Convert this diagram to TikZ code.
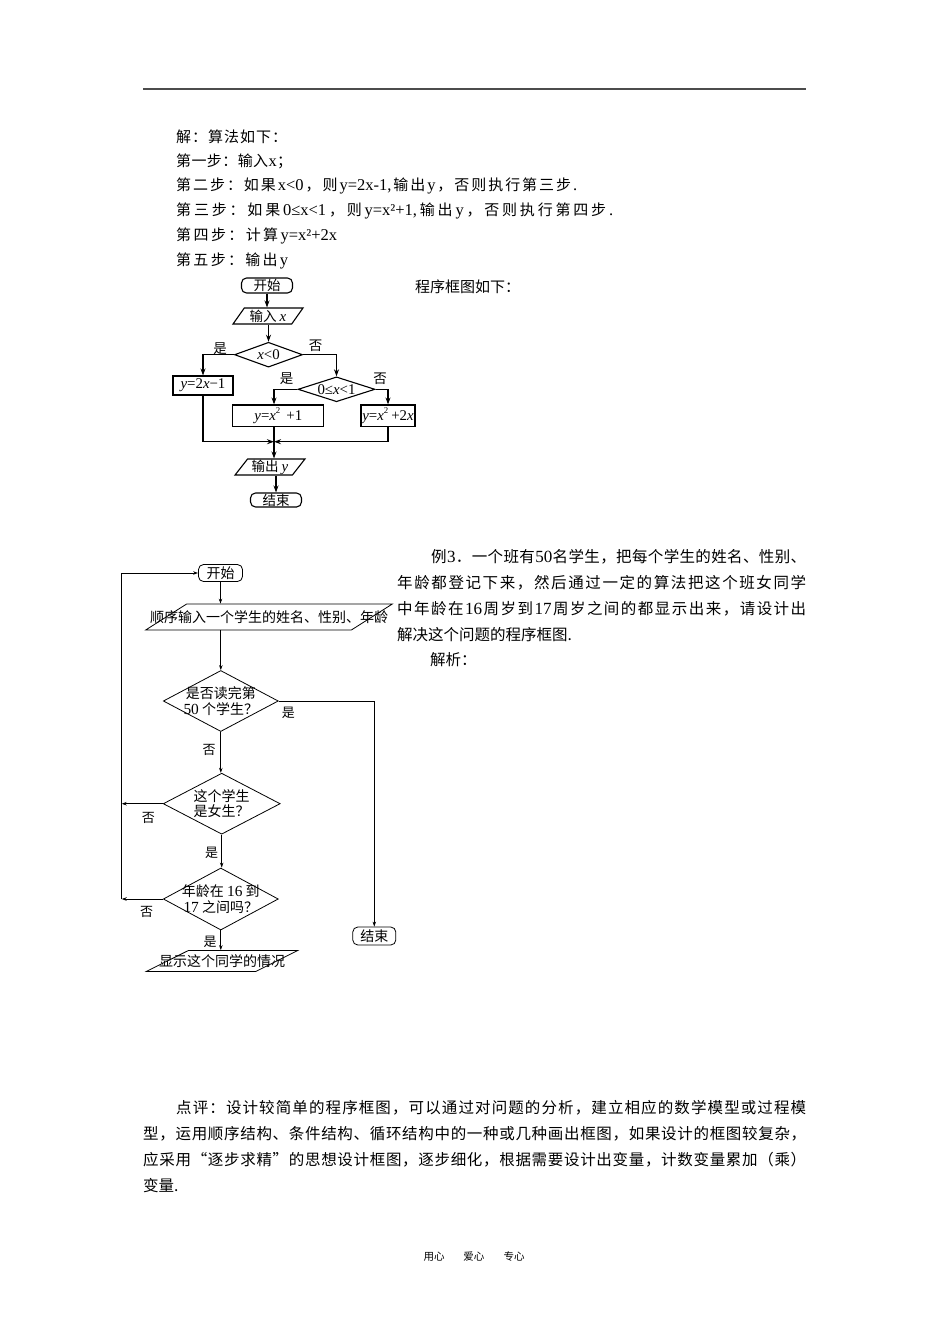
\documentclass[tikz,border=0pt]{standalone}
\usepackage{fontspec}
\setmainfont{Noto Sans CJK SC}
\newfontfamily\latf[Scale=1.1]{Liberation Serif}
\usetikzlibrary{shapes.geometric,arrows.meta}
\newcommand\latr[1]{{\latf #1}}
\newcommand\ltit[1]{{\latf\itshape #1}}
\makeatletter
\def\sp@end{SPEND}
\def\spreadit#1{\sp@first#1\sp@end}
\def\sp@first#1{#1\sp@next}
\def\sp@next#1{\ifx\sp@end#1\else\hfil#1\expandafter\sp@next\fi}
\makeatother
\newcommand\jline[2]{\hbox to #1pt{\spreadit{#2}}}
\begin{document}
\begin{tikzpicture}[x=1pt,y=-1pt,
  txt/.style={anchor=west, inner sep=0pt, font=\fontsize{15}{18}\selectfont},
  txtb/.style={anchor=west, inner sep=0pt, font=\fontsize{15.5}{18}\selectfont},
  fcA/.style={draw, line width=1.1pt, font=\fontsize{13.5}{15}\selectfont, inner sep=0pt},
  fcB/.style={draw, line width=0.8pt, font=\fontsize{14}{15.5}\selectfont, inner sep=0pt},
  term/.style={rectangle, rounded corners=5pt},
  proc/.style={rectangle},
  iobox/.style={trapezium, trapezium stretches=true},
  dec/.style={diamond},
  arA/.style={-{Stealth[length=7pt,width=5pt]}, line width=1.1pt},
  arB/.style={-{Stealth[length=5pt,width=3.5pt]}, line width=0.8pt},
  lblA/.style={inner sep=0pt, font=\fontsize{13.5}{15}\selectfont},
  lblB/.style={inner sep=0pt, font=\fontsize{13}{15}\selectfont},
]
\fill[white] (0,0) rectangle (950,1344);
\useasboundingbox (0,0) rectangle (950,1344);

% header rule
\draw[line width=2pt, black!70] (143,89) -- (806,89);

% solution text
\node[txt] (t1) at (176,137) {\jline{111}{解：算法如下：}};
\node[txt] (t2) at (176,161) {\jline{116}{第一步：输入{\latr{x}}；}};
\node[txt] (t3) at (176,186) {\jline{401}{第二步：如果{\latr{x<0}}，则{\latr{y=2x-1,}}输出{\latr{y}}，否则执行第三步{\latr{.}}}};
\node[txt] (t4) at (176,211) {\jline{437}{第三步：如果{\latr{0≤x<1}}，则{\latr{y=x²+1,}}输出{\latr{y}}，否则执行第四步{\latr{.}}}};
\node[txt] (t5) at (176,236) {\jline{161}{第四步：计算{\latr{y=x²+2x}}}};
\node[txt] (t6) at (176,261) {\jline{112}{第五步：输出{\latr{y}}}};
\node[txt] (t7) at (415,287) {程序框图如下：};

% ---------- flowchart 1 ----------
\node[fcA, term, minimum width=51, minimum height=15] (s1) at (267,285.5) {开始};
\node[fcA, iobox, trapezium left angle=55, trapezium right angle=125,
      minimum width=70, minimum height=16] (in1) at (268,316) {输入 \ltit{x}};
\node[fcA, dec, inner sep=1pt, minimum width=68, minimum height=24,
      label={[lblA]center:\ltit{x}\latr{<0}}] (d1) at (268.5,354.7) {\phantom{M}};
\node[fcA, proc, minimum width=60, minimum height=19] (b1) at (203,385.5) {\ltit{y}\latr{=2}\ltit{x}\latr{−1}};
\node[fcA, dec, inner sep=1pt, minimum width=77, minimum height=23,
      label={[lblA]center:\latr{0≤}\ltit{x}\latr{<1}}] (d2) at (336.5,389.3) {\phantom{M}};
\node[fcA, proc, minimum width=91, minimum height=21.7] (b2) at (278.3,415.8)
  {\ltit{y}\latr{=}\ltit{x}\raisebox{7pt}{\latr{\fontsize{8}{8}\selectfont 2}}\hspace{6pt}\latr{+1}};
\node[fcA, proc, minimum width=54, minimum height=21.7] (b3) at (388,415.8)
  {\ltit{y}\latr{=}\ltit{x}\raisebox{7pt}{\latr{\fontsize{8}{8}\selectfont 2}}\hspace{3pt}\latr{+2}\ltit{x}};
\node[fcA, iobox, trapezium left angle=55, trapezium right angle=125,
      minimum width=70, minimum height=16] (out1) at (270,467) {输出 \ltit{y}};
\node[fcA, term, minimum width=51, minimum height=14] (e1) at (276,500) {结束};
\coordinate (m) at (274,441.7);

\draw[arA] (s1.south) -- (s1.south |- in1.north);
\draw[arA] (d1.north |- in1.south) -- (d1.north);
\draw[arA] (d1.west) -| (b1.north);
\draw[arA] (d1.east) -| (d2.north);
\draw[arA] (d2.west) -| (m |- b2.north);
\draw[arA] (d2.east) -| (b3.north);
\draw[arA] (b1.south) |- (m);
\draw[arA] (b3.south) |- (m);
\draw[arA] (m |- b2.south) -- (m |- out1.north);
\draw[arA] (e1.north |- out1.south) -- (e1.north);

\node[lblA] (ly1) at (220,349) {是};
\node[lblA] (ln1) at (315.7,346) {否};
\node[lblA] (ly2) at (286.7,378.3) {是};
\node[lblA] (ln2) at (380,378.3) {否};

% ---------- flowchart 2 ----------
\node[fcB, term, minimum width=44, minimum height=17] (s2) at (220.5,573) {开始};
\node[fcB, iobox, inner sep=2pt, trapezium left angle=75, trapezium right angle=105,
      minimum width=247, minimum height=26,
      label={[font=\fontsize{14}{15.5}\selectfont, inner sep=0pt]center:顺序输入一个学生的姓名、性别、年龄}] (in2) at (269,617) {\phantom{M}};
\node[fcB, dec, inner sep=1pt, minimum width=115, minimum height=61,
      label={[font=\fontsize{14}{15.5}\selectfont, align=center, inner sep=0pt]center:是否读完第\\\latr{50} 个学生？}] (d3) at (220.8,701) {\phantom{M}};
\node[fcB, dec, inner sep=1pt, minimum width=117, minimum height=61,
      label={[font=\fontsize{14}{15.5}\selectfont, align=center, inner sep=0pt]center:这个学生\\是女生？}] (d4) at (221.7,803.7) {\phantom{M}};
\node[fcB, dec, inner sep=1pt, minimum width=115, minimum height=62,
      label={[font=\fontsize{14}{15.5}\selectfont, align=center, inner sep=0pt]center:年龄在 \latr{16} 到\\\latr{17} 之间吗？}] (d5) at (220.8,899) {\phantom{M}};
\node[fcB, iobox, inner sep=2pt, trapezium left angle=56, trapezium right angle=124,
      minimum width=152, minimum height=21,
      label={[font=\fontsize{14}{15.5}\selectfont, inner sep=0pt]center:显示这个同学的情况}] (out2) at (222,961) {\phantom{M}};
\node[fcB, term, minimum width=43, minimum height=18] (e2) at (374.3,936) {结束};
\coordinate (L) at (121.7,0);

\draw[arB] (s2.south) -- (s2.south |- in2.north);
\draw[arB] (d3.north |- in2.south) -- (d3.north);
\draw[arB] (d3.south) -- (d3.south |- d4.north);
\draw[arB] (d4.south) -- (d4.south |- d5.north);
\draw[arB] (d5.south) -- (d5.south |- out2.north);
\draw[arB] (d3.east) -| (e2.north);
\draw[arB] (d4.west) -- (d4.west -| L);
\draw[arB] (d5.west) -- (d5.west -| L);
\draw[arB] (d5.west -| L) |- (s2.west);

\node[lblB] (ln3) at (209,750) {否};
\node[lblB] (ly3) at (288.3,713.3) {是};
\node[lblB] (ln4) at (148.3,818.3) {否};
\node[lblB] (ly4) at (211.7,853.3) {是};
\node[lblB] (ln5) at (146.7,911.7) {否};
\node[lblB] (ly5) at (210,941.7) {是};

% example 3 text
\node[txtb] (e31) at (431,557) {\jline{375}{例{\latr{3}}．一个班有{\latr{50}}名学生，把每个学生的姓名、性别、}};
\node[txtb] (e32) at (397,583) {\jline{409}{年龄都登记下来，然后通过一定的算法把这个班女同学}};
\node[txtb] (e33) at (397,609) {\jline{409}{中年龄在{\latr{16}}周岁到{\latr{17}}周岁之间的都显示出来，请设计出}};
\node[txtb] (e34) at (397,635) {解决这个问题的程序框图.};
\node[txtb] (e35) at (430,660) {解析：};

% comment text
\node[txtb] (c1) at (176,1108) {\jline{630}{点评：设计较简单的程序框图，可以通过对问题的分析，建立相应的数学模型或过程模}};
\node[txtb] (c2) at (143,1134) {\jline{663}{型，运用顺序结构、条件结构、循环结构中的一种或几种画出框图，如果设计的框图较复杂，}};
\node[txtb] (c3) at (143,1160) {\jline{663}{应采用“逐步求精”的思想设计框图，逐步细化，根据需要设计出变量，计数变量累加（乘）}};
\node[txtb] (c4) at (143,1186) {变量.};

% footer
\node[inner sep=0pt, font=\fontsize{10.5}{12}\selectfont] (foot) at (474,1257) {用心\hspace{19pt}爱心\hspace{19pt}专心};
\end{tikzpicture}
\end{document}
